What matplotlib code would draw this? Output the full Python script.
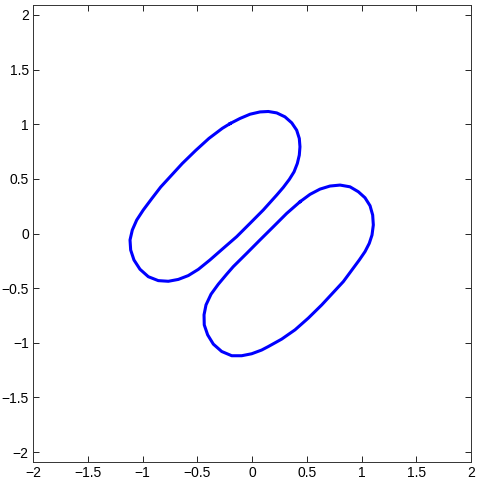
import numpy as np
import matplotlib
matplotlib.use("Agg")
import matplotlib.pyplot as plt

# points, going clockwise round each loop
loop1_x = [-0.201, -0.110, -0.018, 0.073, 0.149, 0.226, 0.301, 0.363, 0.408, 0.432,
           0.438, 0.432, 0.414, 0.384, 0.341, 0.286, 0.226, 0.103, -0.018, -0.140,
           -0.262, -0.384, -0.490, -0.582, -0.673, -0.764, -0.856, -0.947, -1.023,
           -1.078, -1.108, -1.114, -1.093, -1.053, -0.993, -0.916, -0.834, -0.637,
           -0.514, -0.393, -0.271]
loop1_y = [1.005, 1.052, 1.091, 1.112, 1.116, 1.103, 1.067, 1.012, 0.945, 0.869,
           0.793, 0.717, 0.641, 0.564, 0.495, 0.422, 0.352, 0.215, 0.093, -0.029,
           -0.135, -0.242, -0.328, -0.385, -0.420, -0.437, -0.431, -0.395, -0.327,
           -0.242, -0.151, -0.059, 0.032, 0.123, 0.215, 0.318, 0.425, 0.640,
           0.760, 0.870, 0.962]

loop2_x = [0.438, 0.530, 0.621, 0.712, 0.804, 0.895, 0.971, 1.032, 1.078, 1.102,
           1.108, 1.096, 1.071, 1.032, 0.980, 0.834, 0.637, 0.514, 0.393, 0.271,
           0.149, 0.088, -0.003, -0.094, -0.185, -0.277, -0.353, -0.405, -0.436,
           -0.438, -0.420, -0.374, -0.308, -0.231, -0.171, -0.048, 0.073, 0.195,
           0.317]
loop2_y = [0.290, 0.358, 0.406, 0.434, 0.443, 0.427, 0.382, 0.327, 0.254, 0.169,
           0.078, -0.014, -0.090, -0.166, -0.242, -0.440, -0.653, -0.774, -0.881, -0.966,
           -1.034, -1.066, -1.100, -1.118, -1.118, -1.079, -1.012, -0.927, -0.836,
           -0.744, -0.653, -0.555, -0.464, -0.372, -0.303, -0.181, -0.059, 0.062,
           0.184]

x_ticks = [-2, -1.5, -1, -0.5, 0, 0.5, 1, 1.5, 2]
y_ticks = [-2, -1.5, -1, -0.5, 0, 0.5, 1, 1.5, 2]

plt.rcParams['font.family'] = ['Liberation Sans', 'DejaVu Sans']
plt.rcParams['font.size'] = 10

fig = plt.figure(figsize=(4.8, 4.8), dpi=100)
ax = fig.add_axes([33 / 480, 18 / 480, 438 / 480, 457 / 480])

for xs, ys in [(loop1_x, loop1_y), (loop2_x, loop2_y)]:
    xs = np.append(xs, xs[0])
    ys = np.append(ys, ys[0])
    ax.plot(xs, ys, color='#0000ff', lw=2.2, solid_joinstyle='round')

ax.set_xlim(-2, 2)
ax.set_ylim(-2.09, 2.09)
ax.set_xticks(x_ticks)
ax.set_yticks(y_ticks)
ax.set_xticklabels([f"{t:g}".replace('-', '\u2212') for t in x_ticks])
ax.set_yticklabels([f"{t:g}".replace('-', '\u2212') for t in y_ticks])
ax.tick_params(direction='in', length=4, width=0.6, top=True, right=True, pad=3)
for s in ax.spines.values():
    s.set_linewidth(0.7)
    s.set_color('#333333')

fig.savefig('out.png', dpi=100)
